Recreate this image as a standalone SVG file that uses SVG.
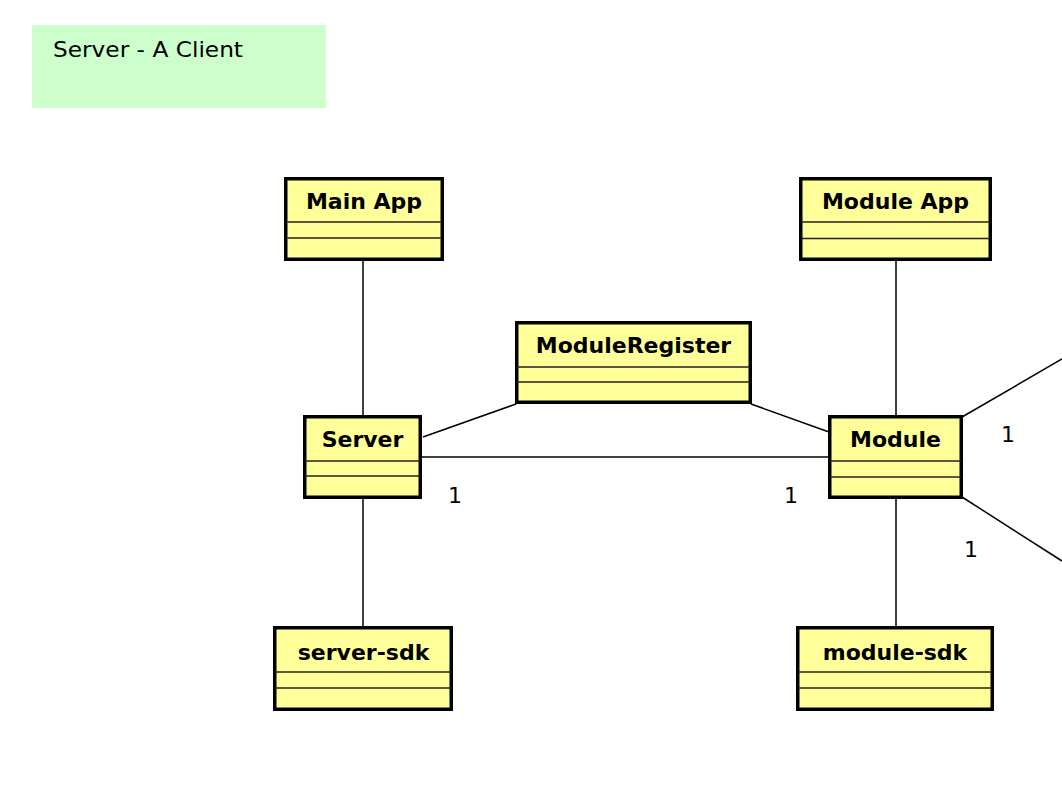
<svg xmlns="http://www.w3.org/2000/svg" width="1062" height="792" viewBox="0 0 1062 792">
<style>
.box{fill:#ffff99;stroke:#000;stroke-width:3.5}
.sep{stroke:#222;stroke-width:1.6}
.name{font-family:"DejaVu Sans",sans-serif;font-weight:bold;font-size:22px;text-anchor:middle;fill:#000}
.conn{stroke:#000;stroke-width:1.5;fill:none}
.mult{font-family:"DejaVu Sans",sans-serif;font-size:22px;fill:#000}
.note{font-family:"DejaVu Sans",sans-serif;font-size:21px;fill:#000}
</style>
<rect width="1062" height="792" fill="#fff"/>
<g id="note">
<rect x="32" y="25" width="294" height="83" fill="#ccffcc"/>
<text class="note" x="53" y="57" textLength="190" lengthAdjust="spacingAndGlyphs">Server - A Client</text>
</g>
<g id="connectors">
<line class="conn" x1="363" y1="261" x2="363" y2="415"/>
<line class="conn" x1="363" y1="499" x2="363" y2="626"/>
<line class="conn" x1="896" y1="261" x2="896" y2="415"/>
<line class="conn" x1="896" y1="499" x2="896" y2="626"/>
<line class="conn" x1="423" y1="437" x2="516" y2="404"/>
<line class="conn" x1="751" y1="404" x2="829" y2="432"/>
<line class="conn" x1="422" y1="457" x2="828" y2="457"/>
<line class="conn" x1="962" y1="417" x2="1062" y2="359"/>
<line class="conn" x1="962" y1="497" x2="1062" y2="561"/>
<text class="mult" x="448" y="503">1</text>
<text class="mult" x="784" y="503">1</text>
<text class="mult" x="1001" y="442">1</text>
<text class="mult" x="964" y="557">1</text>
</g>
<g id="main-app">
<rect class="box" x="285.75" y="178.75" width="156.5" height="80.5"/>
<line class="sep" x1="286" y1="222" x2="442" y2="222"/>
<line class="sep" x1="286" y1="238" x2="442" y2="238"/>
<text class="name" x="364" y="209">Main App</text>
</g>
<g id="module-app">
<rect class="box" x="800.75" y="178.75" width="189.5" height="80.5"/>
<line class="sep" x1="801" y1="222" x2="990" y2="222"/>
<line class="sep" x1="801" y1="238.5" x2="990" y2="238.5"/>
<text class="name" x="895.5" y="209">Module App</text>
</g>
<g id="module-register">
<rect class="box" x="516.75" y="322.75" width="233.5" height="79.5"/>
<line class="sep" x1="517" y1="367" x2="750" y2="367"/>
<line class="sep" x1="517" y1="382" x2="750" y2="382"/>
<text class="name" x="633.5" y="353">ModuleRegister</text>
</g>
<g id="server">
<rect class="box" x="304.75" y="416.75" width="115.5" height="80.5"/>
<line class="sep" x1="305" y1="461" x2="420" y2="461"/>
<line class="sep" x1="305" y1="476" x2="420" y2="476"/>
<text class="name" x="362.5" y="447">Server</text>
</g>
<g id="module">
<rect class="box" x="829.75" y="416.75" width="131.5" height="80.5"/>
<line class="sep" x1="830" y1="461" x2="961" y2="461"/>
<line class="sep" x1="830" y1="477" x2="961" y2="477"/>
<text class="name" x="895.5" y="447">Module</text>
</g>
<g id="server-sdk">
<rect class="box" x="274.75" y="627.75" width="176.5" height="81.5"/>
<line class="sep" x1="275" y1="672" x2="451" y2="672"/>
<line class="sep" x1="275" y1="688" x2="451" y2="688"/>
<text class="name" x="363.5" y="660">server-sdk</text>
</g>
<g id="module-sdk">
<rect class="box" x="797.75" y="627.75" width="194.5" height="81.5"/>
<line class="sep" x1="798" y1="672" x2="992" y2="672"/>
<line class="sep" x1="798" y1="688" x2="992" y2="688"/>
<text class="name" x="895" y="660">module-sdk</text>
</g>
</svg>
